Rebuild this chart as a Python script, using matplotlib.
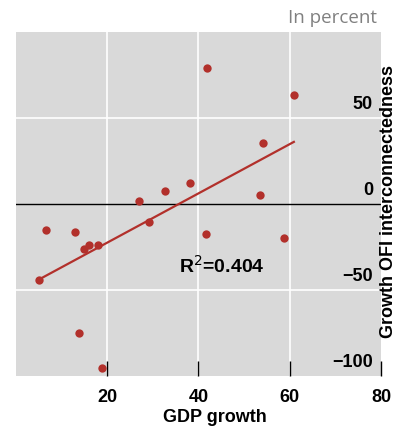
import numpy as np
import matplotlib.pyplot as plt

# GDP growth vs growth in OFI interconnectedness (percent)
gdp_growth = [41.9, 60.9, 54.1, 27.0, 32.6, 38.1, 53.5, 6.5, 13.0, 29.2,
              41.6, 58.8, 15.0, 15.9, 17.9, 5.0, 13.7, 18.8]
ofi_growth = [79.0, 63.1, 35.3, 1.9, 7.4, 12.1, 5.1, -15.0, -16.2, -10.4,
              -17.2, -19.5, -26.1, -24.1, -23.7, -44.1, -75.1, -95.6]
r_squared = 0.404
# fitted regression line
fit_slope = 1.432
fit_intercept = -51.1

x_ticks = [20, 40, 60, 80]
y_ticks = [-100, -50, 0, 50]

red = '#b2302b'
plt.rcParams['font.family'] = ['Liberation Sans', 'DejaVu Sans']

fig = plt.figure(figsize=(4.06, 4.30), dpi=100)
ax = fig.add_axes([16 / 406, 54 / 430, 365 / 406, 344 / 430])
ax.set_facecolor('#d9d9d9')
ax.set_xlim(0, 80)
ax.set_ylim(-100, 100)

# white grid, black zero line
for xv in x_ticks[:-1]:
    ax.axvline(xv, color='white', lw=1.2, zorder=1)
for yv in (-50, 50):
    ax.axhline(yv, color='white', lw=1.2, zorder=1)
ax.axhline(0, color='black', lw=1.0, zorder=2)

x = np.array(gdp_growth)
y = np.array(ofi_growth)
xf = np.array([x.min(), x.max()])
ax.plot(xf, fit_slope * xf + fit_intercept, color=red, lw=1.6, zorder=3)
ax.plot(x, y, 'o', color=red, ms=6, mec='none', zorder=4)

ax.text(45, -36, 'R$^2$=%.3f' % r_squared, ha='center', va='center',
        fontsize=14, fontweight='bold')

for s in ax.spines.values():
    s.set_visible(False)

ax.set_xticks(x_ticks)
ax.set_xticklabels([str(t) for t in x_ticks], fontsize=13, fontweight='bold')
ax.tick_params(axis='x', direction='in', length=11, width=1, color='black', pad=9)
ax.set_yticks([])
for yv in y_ticks:
    ax.text(0.978, yv + 3, '\u2212%d' % -yv if yv < 0 else str(yv),
            transform=ax.get_yaxis_transform(), ha='right', va='bottom',
            fontsize=13, fontweight='bold')

fig.text(215 / 406, 12 / 430, 'GDP growth', ha='center', va='center', fontsize=13,
         fontweight='bold')
fig.text(389 / 406, 229 / 430, 'Growth OFI interconnectedness', ha='center',
         va='center', rotation=90, fontsize=13, fontweight='bold')
fig.text(377 / 406, 412 / 430, 'In percent', ha='right', va='center', fontsize=13.5,
         color='#808080', family=['Open Sans', 'DejaVu Sans'])

fig.savefig('out.png', dpi=100)
